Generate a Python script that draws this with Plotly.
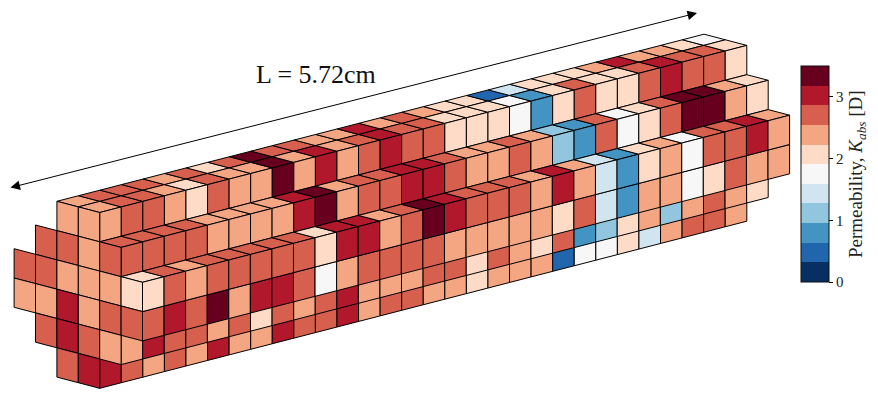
import plotly.graph_objects as go

# Permeability colour classes (bin index 0-10 of the colour bar); index runs along core length
level_colors = ["#053061", "#2166ac", "#4393c3", "#92c5de", "#d1e5f0", "#f7f7f7",
                "#fddbc7", "#f4a582", "#d6604d", "#b2182b", "#67001f"]
K_MAX = 3.5
cb_ticks = [0, 1, 2, 3]

# Long side of the core, one list per exposed row (y = depth row, z = layer)
y3_z5 = [7,8,8,8,7,8,6,8,10,8,8,7,7,9,7,8,7,6,6,1,4,6,6,6,7,9,7,7,6,5]
y2_z5 = [7,8,8,7,6,8,7,7,10,7,9,7,8,9,8,8,6,6,6,5,2,6,8,6,6,8,9,8,8,6]
y1_z4 = [8,8,8,8,7,7,7,7,9,10,7,8,8,9,9,8,7,7,8,7,3,2,8,5,6,8,10,10,7,6]
y0_z3 = [6,8,7,8,8,8,8,8,6,9,9,7,8,10,9,8,8,8,7,9,7,4,2,6,7,5,8,8,9,7]
y0_z2 = [8,9,8,10,7,9,9,8,5,7,8,8,8,8,7,7,7,7,7,6,8,4,2,7,7,5,6,8,7,7]
y1_z1 = [7,9,8,8,7,8,6,8,7,8,9,7,7,7,8,8,6,8,7,6,8,2,3,6,7,3,7,8,7,6]
y2_z0 = [9,8,7,8,7,9,7,7,9,8,8,9,7,8,8,7,7,6,7,7,7,1,5,5,6,4,7,8,8,7]

# End face at x = 0: (y, z) -> class
end_y = [3,2, 4,3,2,1, 5,4,3,2,1,0, 5,4,3,2,1,0, 4,3,2,1, 3,2]
end_z = [5,5, 4,4,4,4, 3,3,3,3,3,3, 2,2,2,2,2,2, 1,1,1,1, 0,0]
end_v = [7,7, 8,8,7,8, 8,8,7,7,7,6, 7,7,9,7,8,8, 8,9,8,7, 8,9]

# Oblique projection of cell indices to page pixels
O = (142.5, 399.5)
DX = (21.57, -5.57)
DY = (-21.4, -5.6)
DZ = (0.0, -29.3)


def proj(x, y, z):
    return (O[0] + x * DX[0] + y * DY[0] + z * DZ[0],
            O[1] + x * DX[1] + y * DY[1] + z * DZ[1])


def top(i, y, z):
    return [proj(i, y, z + 1), proj(i + 1, y, z + 1), proj(i + 1, y + 1, z + 1), proj(i, y + 1, z + 1)]


def side(i, y, z):
    return [proj(i, y, z), proj(i + 1, y, z), proj(i + 1, y, z + 1), proj(i, y, z + 1)]


def end(y, z):
    return [proj(0, y, z), proj(0, y + 1, z), proj(0, y + 1, z + 1), proj(0, y, z + 1)]


faces = []
for i, v in enumerate(y3_z5):
    faces.append((top(i, 3, 5), v))
for i, v in enumerate(y2_z0):
    faces.append((side(i, 2, 0), v))
for i, v in enumerate(y2_z5):
    faces.append((top(i, 2, 5), v))
    faces.append((side(i, 2, 5), v))
for i, v in enumerate(y1_z1):
    faces.append((side(i, 1, 1), v))
for i, v in enumerate(y1_z4):
    faces.append((top(i, 1, 4), v))
    faces.append((side(i, 1, 4), v))
for i, v in enumerate(y0_z2):
    faces.append((side(i, 0, 2), v))
for i, v in enumerate(y0_z3):
    faces.append((top(i, 0, 3), v))
    faces.append((side(i, 0, 3), v))
for y, z, v in zip(end_y, end_z, end_v):
    faces.append((end(y, z), v))

fig = go.Figure()
for poly, v in faces:
    xs = [p[0] for p in poly] + [poly[0][0]]
    ys = [p[1] for p in poly] + [poly[0][1]]
    fig.add_trace(go.Scatter(x=xs, y=ys, mode="lines", fill="toself",
                             fillcolor=level_colors[v],
                             line=dict(color="black", width=1),
                             hoverinfo="skip", showlegend=False))

n = len(level_colors)
scale = []
for k, c in enumerate(level_colors):
    scale += [[k / n, c], [(k + 1) / n, c]]

fig.add_trace(go.Scatter(
    x=[None], y=[None], mode="markers", showlegend=False, hoverinfo="skip",
    marker=dict(color=[0, K_MAX], cmin=0, cmax=K_MAX, colorscale=scale, showscale=True,
                colorbar=dict(x=800.5 / 878, xanchor="left", y=1 - 66 / 408, yanchor="top",
                              xpad=0, ypad=0,
                              thicknessmode="pixels", thickness=28,
                              lenmode="pixels", len=216,
                              tickvals=cb_ticks, ticks="outside", ticklen=4, tickwidth=0.8,
                              tickcolor="black",
                              tickfont=dict(family="Liberation Serif", size=15, color="#222"),
                              outlinecolor="#111", outlinewidth=1, bordercolor="rgba(0,0,0,0)",
                              borderwidth=0))))

FONT = "Liberation Serif"
fig.add_annotation(x=316, y=74, xref="x", yref="y", text="L = 5.72cm", showarrow=False,
                   font=dict(family=FONT, size=26, color="#111"))
fig.add_annotation(x=857, y=174, xref="x", yref="y", textangle=-90, showarrow=False,
                   text="Permeability, <i>K<sub>abs</sub></i> [D]",
                   font=dict(family=FONT, size=19, color="#222"))
fig.add_annotation(x=697, y=13, ax=9, ay=188, xref="x", yref="y", axref="x", ayref="y", text="",
                   showarrow=True, arrowhead=2, startarrowhead=2, arrowside="end+start",
                   arrowsize=1.9, startarrowsize=1.9, arrowwidth=1, arrowcolor="black")

fig.update_layout(
    width=878, height=408, margin=dict(l=0, r=0, t=0, b=0, pad=0, autoexpand=False),
    paper_bgcolor="white", plot_bgcolor="white",
    xaxis=dict(range=[0, 878], visible=False, fixedrange=True),
    yaxis=dict(range=[408, 0], visible=False, fixedrange=True),
)
fig.write_html("out.html", config={"displayModeBar": False},
               post_script="document.body.style.margin='0';document.body.style.overflow='hidden';")
